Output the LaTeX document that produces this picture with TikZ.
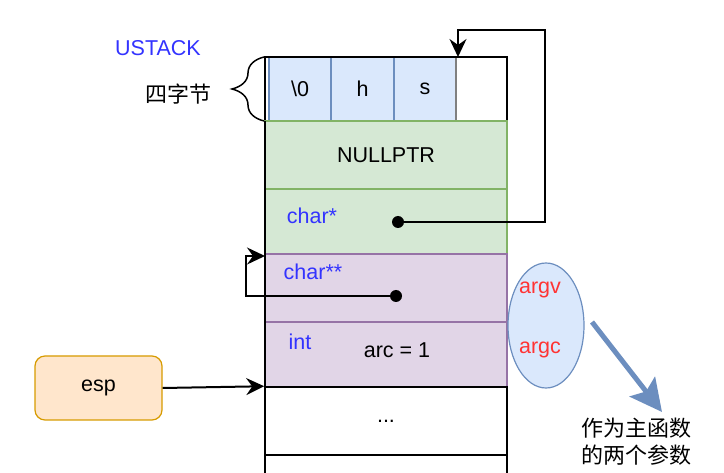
\documentclass[tikz,border=0pt]{standalone}
\usepackage{fontspec}
\setmainfont{Liberation Sans}
\newfontfamily\cjk{Noto Sans CJK SC}
\usetikzlibrary{arrows.meta,shapes.geometric,decorations.pathreplacing}
\definecolor{bluefill}{HTML}{DAE8FC}
\definecolor{blueline}{HTML}{6C8EBF}
\definecolor{greenfill}{HTML}{D5E8D4}
\definecolor{greenline}{HTML}{82B366}
\definecolor{purplefill}{HTML}{E1D5E7}
\definecolor{purpleline}{HTML}{9673A6}
\definecolor{orangefill}{HTML}{FFE6CC}
\definecolor{orangeline}{HTML}{D79B00}
\definecolor{txtblue}{HTML}{3333FF}
\definecolor{txtred}{HTML}{FF3333}
\begin{document}
\begin{tikzpicture}[x=1pt,y=-1pt,
  font=\fontsize{21.5}{26}\selectfont,
  cell/.style={rectangle, inner sep=0pt, line width=1.2pt},
  bytecell/.style={cell, fill=bluefill, draw=blueline, minimum height=63},
  greenrow/.style={cell, fill=greenfill, draw=greenline, minimum width=242},
  purplerow/.style={cell, fill=purplefill, draw=purpleline, minimum width=242},
  whiterow/.style={cell, fill=white, draw=black, line width=1.5pt, minimum width=242},
  bluetxt/.style={text=txtblue, inner sep=0pt},
  redtxt/.style={text=txtred, inner sep=0pt},
  dot/.style={circle, fill=black, inner sep=0pt, minimum size=12},
  conn/.style={line width=2pt, -{Stealth[length=18pt,width=17pt,inset=6pt]}},
  cjktxt/.style={font=\cjk\fontsize{22}{27}\selectfont, align=center, inner sep=0pt}
]
\useasboundingbox (0,0) rectangle (724,473);

% top row: four bytes
\node[bytecell, minimum width=62] (c0) at (300,89) {\textbackslash0};
\node[bytecell, minimum width=63] (c1) at (362.5,89) {h};
\node[bytecell, minimum width=62] (c2) at (425,89) {s};
\node[cell, draw=gray, minimum width=51, minimum height=63] (c3) at (481.5,89) {};
\draw[line width=1.5pt] (265,57) rectangle (507,121);

% rows
\node[greenrow, minimum height=68] (r1) at (386,155) {NULLPTR};
\node[greenrow, minimum height=65] (r2) at (386,221.5) {};
\node[purplerow, minimum height=68] (r3) at (386,288) {};
\node[purplerow, minimum height=65] (r4) at (386,354.5) {};
\node[whiterow, minimum height=68] (r5) at (386,421) {...};
\draw[line width=1.5pt] (265,480) -- (265,455) -- (507,455) -- (507,480);
\draw[line width=1.5pt] (265,121) -- (265,455);

% row labels
\node[bluetxt] (l2) at (312,216) {char*};
\node[bluetxt] (l3) at (313,272) {char**};
\node[bluetxt] (l4) at (300,342) {int};
\node[inner sep=0pt] (l5) at (397,350) {arc = 1};

% pointers
\node[dot] (d1) at (398,222) {};
\node[dot] (d2) at (396,296) {};
\coordinate (a1) at (458,57);
\draw[conn] (d1.center) -| (545,30) -| (a1);
\coordinate (a2) at (265,256);
\draw[conn] (d2.center) -| (246,256) -- (a2);

% esp
\node[cell, rounded corners=10pt, fill=orangefill, draw=orangeline,
      minimum width=127, minimum height=64] (esp) at (98.5,388) {esp};
\draw[conn] (esp.east) -- (r5.north west);

% labels on the left
\node[bluetxt] (ustack) at (158,48) {USTACK};
\draw[line width=1.5pt, decorate, decoration={brace, amplitude=32pt}] (264,121) -- (264,57);
\node[cjktxt] (four) at (178,94) {四字节};

% ellipse with argv / argc
\node[ellipse, draw=blueline, fill=bluefill, line width=1.2pt,
      minimum width=76, minimum height=125, inner sep=0pt] (ell) at (546,325.5) {};
\node[redtxt] (argv) at (540,290) {argv};
\node[redtxt] (argc) at (540,350) {argc};

% thick arrow and note
\coordinate (t0) at (592,322);
\coordinate (t1) at (662,412);
\draw[blueline, line width=5pt, -{Stealth[length=32pt,width=32pt,inset=6pt]}] (t0) -- (t1);
\node[cjktxt] (note) at (636,442) {作为主函数\\的两个参数};
\end{tikzpicture}
\end{document}
